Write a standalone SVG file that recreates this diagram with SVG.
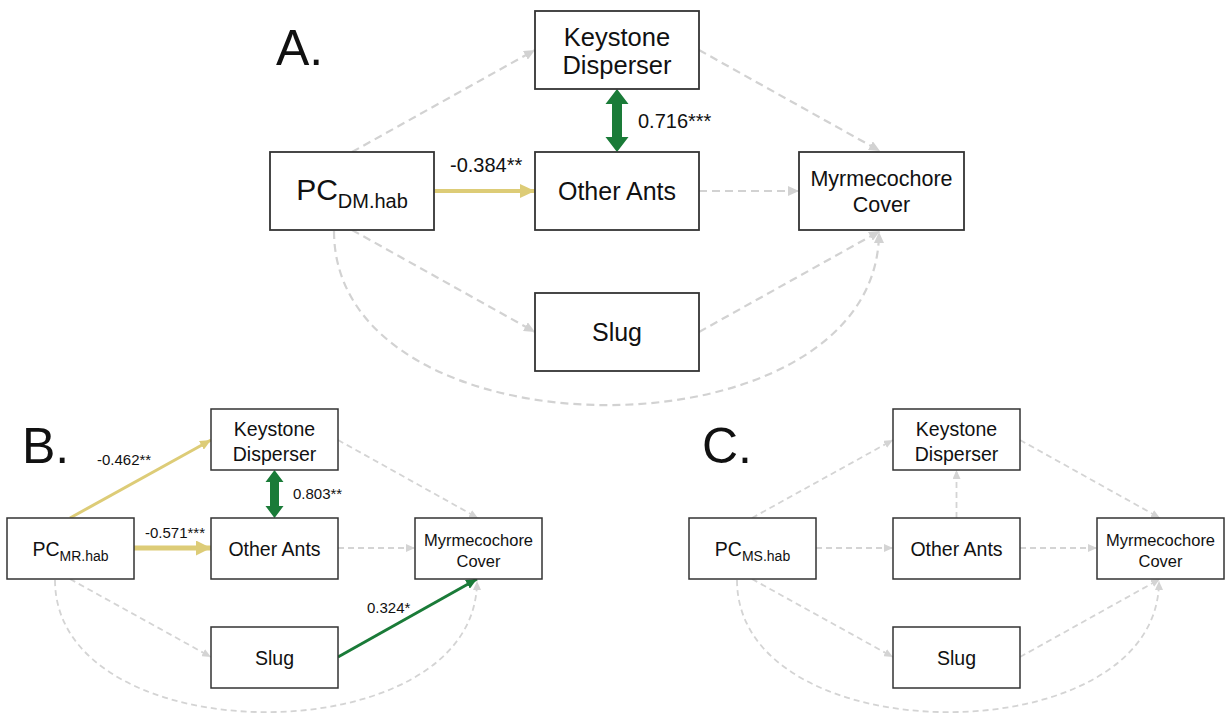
<svg xmlns="http://www.w3.org/2000/svg" width="1225" height="715" viewBox="0 0 1225 715">
<style>
text{font-family:"Liberation Sans",Arial,sans-serif;fill:#111;}
.box{fill:#fff;stroke:#333;stroke-width:1.8;}
.boxs{fill:#fff;stroke:#333;stroke-width:1.5;}
.mid{text-anchor:middle;}
.dashA{fill:none;stroke:#d2d2d2;stroke-width:2.2;stroke-dasharray:8 5;}
.dashB{fill:none;stroke:#d4d4d4;stroke-width:1.8;stroke-dasharray:6 4;}
.yel{fill:none;stroke:#ddcc77;}
.grn{fill:none;stroke:#1a7b38;}
.panel{font-size:50px;}
.nb{font-size:19.5px;}
.nm{font-size:16.5px;}
</style>
<defs>
<marker id="gA" markerUnits="userSpaceOnUse" markerWidth="12" markerHeight="10" refX="11" refY="5" orient="auto"><path d="M0,0 L11,5 L0,10 z" fill="#d2d2d2"/></marker>
<marker id="gB" markerUnits="userSpaceOnUse" markerWidth="10" markerHeight="8" refX="9" refY="4" orient="auto"><path d="M0,0 L9,4 L0,8 z" fill="#d4d4d4"/></marker>
<marker id="yA" markerUnits="userSpaceOnUse" markerWidth="16" markerHeight="14" refX="15" refY="7" orient="auto"><path d="M0,0 L15,7 L0,14 z" fill="#ddcc77"/></marker>
<marker id="yB" markerUnits="userSpaceOnUse" markerWidth="12" markerHeight="10" refX="11" refY="5" orient="auto"><path d="M0,0 L11,5 L0,10 z" fill="#ddcc77"/></marker>
<marker id="yC" markerUnits="userSpaceOnUse" markerWidth="16" markerHeight="15" refX="15" refY="7.5" orient="auto"><path d="M0,0 L15,7.5 L0,15 z" fill="#ddcc77"/></marker>
<marker id="gr" markerUnits="userSpaceOnUse" markerWidth="12" markerHeight="10" refX="11" refY="5" orient="auto"><path d="M0,0 L11,5 L0,10 z" fill="#1a7b38"/></marker>
</defs>

<g id="connectors">
<!-- Panel A -->
<line class="dashA" x1="352" y1="152" x2="535" y2="50" marker-end="url(#gA)"/>
<line class="dashA" x1="699" y1="50" x2="880" y2="151" marker-end="url(#gA)"/>
<line class="dashA" x1="699" y1="191" x2="799" y2="191" marker-end="url(#gA)"/>
<line class="dashA" x1="352" y1="230" x2="535" y2="332" marker-end="url(#gA)"/>
<line class="dashA" x1="699" y1="332" x2="880" y2="231" marker-end="url(#gA)"/>
<path class="dashA" d="M334,231 C334,463 879,463 879,232" marker-end="url(#gA)"/>
<line class="yel" stroke-width="4" x1="434" y1="191" x2="535" y2="191" marker-end="url(#yA)"/>
<polygon fill="#1a7b38" points="617,89 628.5,104 622,104 622,137 628.5,137 617,152 605.5,137 612,137 612,104 605.5,104"/>
<text x="450" y="172" font-size="20">-0.384**</text>
<text x="638" y="128" font-size="20">0.716***</text>

<!-- Panel B -->
<line class="dashB" x1="338" y1="440" x2="478" y2="518" marker-end="url(#gB)"/>
<line class="dashB" x1="338" y1="548" x2="415" y2="548" marker-end="url(#gB)"/>
<line class="dashB" x1="70" y1="579" x2="211" y2="657" marker-end="url(#gB)"/>
<path class="dashB" d="M55,580 C55,756 477,756 477,581" marker-end="url(#gB)"/>
<line class="yel" stroke-width="3" x1="70" y1="518" x2="211" y2="440" marker-end="url(#yB)"/>
<line class="yel" stroke-width="5" x1="134" y1="548" x2="211" y2="548" marker-end="url(#yC)"/>
<line class="grn" stroke-width="3" x1="338" y1="657" x2="477" y2="579" marker-end="url(#gr)"/>
<polygon fill="#1a7b38" points="274.5,470 283.5,482 279,482 279,506 283.5,506 274.5,518 265.5,506 270,506 270,482 265.5,482"/>
<text x="97" y="465" font-size="15">-0.462**</text>
<text x="145" y="538" font-size="15">-0.571***</text>
<text x="293" y="499" font-size="15">0.803**</text>
<text x="367" y="613" font-size="15">0.324*</text>

<!-- Panel C -->
<line class="dashB" x1="752" y1="518" x2="893" y2="440" marker-end="url(#gB)"/>
<line class="dashB" x1="1020" y1="440" x2="1160" y2="518" marker-end="url(#gB)"/>
<line class="dashB" x1="816" y1="548" x2="893" y2="548" marker-end="url(#gB)"/>
<line class="dashB" x1="956.5" y1="518" x2="956.5" y2="470" marker-end="url(#gB)"/>
<line class="dashB" x1="1020" y1="548" x2="1097" y2="548" marker-end="url(#gB)"/>
<line class="dashB" x1="752" y1="579" x2="893" y2="657" marker-end="url(#gB)"/>
<line class="dashB" x1="1020" y1="657" x2="1160" y2="579" marker-end="url(#gB)"/>
<path class="dashB" d="M737,580 C737,756 1159,756 1159,581" marker-end="url(#gB)"/>
</g>

<text class="panel" x="276" y="65">A.</text>
<text class="panel" x="22" y="463">B.</text>
<text class="panel" x="702" y="463">C.</text>

<!-- Panel A nodes -->
<g id="A-keystone"><rect class="box" x="535" y="11" width="164" height="78"/><text class="mid" x="617" y="46" font-size="25.5">Keystone</text><text class="mid" x="617" y="74" font-size="25.5">Disperser</text></g>
<g id="A-pc"><rect class="box" x="270" y="152" width="164" height="78"/><text class="mid" x="352" y="200" font-size="30">PC<tspan font-size="20" dy="8">DM.hab</tspan></text></g>
<g id="A-otherants"><rect class="box" x="535" y="152" width="164" height="78"/><text class="mid" x="617" y="200" font-size="25">Other Ants</text></g>
<g id="A-myrm"><rect class="box" x="799" y="152" width="165" height="78"/><text class="mid" x="881.5" y="186" font-size="21.5">Myrmecochore</text><text class="mid" x="881.5" y="212" font-size="21.5">Cover</text></g>
<g id="A-slug"><rect class="box" x="535" y="293" width="164" height="78"/><text class="mid" x="617" y="341" font-size="25">Slug</text></g>

<!-- Panel B nodes -->
<g id="B-keystone"><rect class="boxs" x="211" y="409" width="127" height="61"/><text class="mid nb" x="274.5" y="436">Keystone</text><text class="mid nb" x="274.5" y="461">Disperser</text></g>
<g id="B-pc"><rect class="boxs" x="7" y="518" width="127" height="61"/><text class="mid" x="70.5" y="556" font-size="19.5">PC<tspan font-size="14" dy="5">MR.hab</tspan></text></g>
<g id="B-otherants"><rect class="boxs" x="211" y="518" width="127" height="61"/><text class="mid nb" x="274.5" y="556">Other Ants</text></g>
<g id="B-myrm"><rect class="boxs" x="415" y="518" width="127" height="61"/><text class="mid nm" x="478.5" y="546">Myrmecochore</text><text class="mid nm" x="478.5" y="567">Cover</text></g>
<g id="B-slug"><rect class="boxs" x="211" y="627" width="127" height="61"/><text class="mid nb" x="274.5" y="665">Slug</text></g>

<!-- Panel C nodes -->
<g id="C-keystone"><rect class="boxs" x="893" y="409" width="127" height="61"/><text class="mid nb" x="956.5" y="436">Keystone</text><text class="mid nb" x="956.5" y="461">Disperser</text></g>
<g id="C-pc"><rect class="boxs" x="689" y="518" width="127" height="61"/><text class="mid" x="752.5" y="556" font-size="19.5">PC<tspan font-size="14" dy="5">MS.hab</tspan></text></g>
<g id="C-otherants"><rect class="boxs" x="893" y="518" width="127" height="61"/><text class="mid nb" x="956.5" y="556">Other Ants</text></g>
<g id="C-myrm"><rect class="boxs" x="1097" y="518" width="127" height="61"/><text class="mid nm" x="1160.5" y="546">Myrmecochore</text><text class="mid nm" x="1160.5" y="567">Cover</text></g>
<g id="C-slug"><rect class="boxs" x="893" y="627" width="127" height="61"/><text class="mid nb" x="956.5" y="665">Slug</text></g>
</svg>
